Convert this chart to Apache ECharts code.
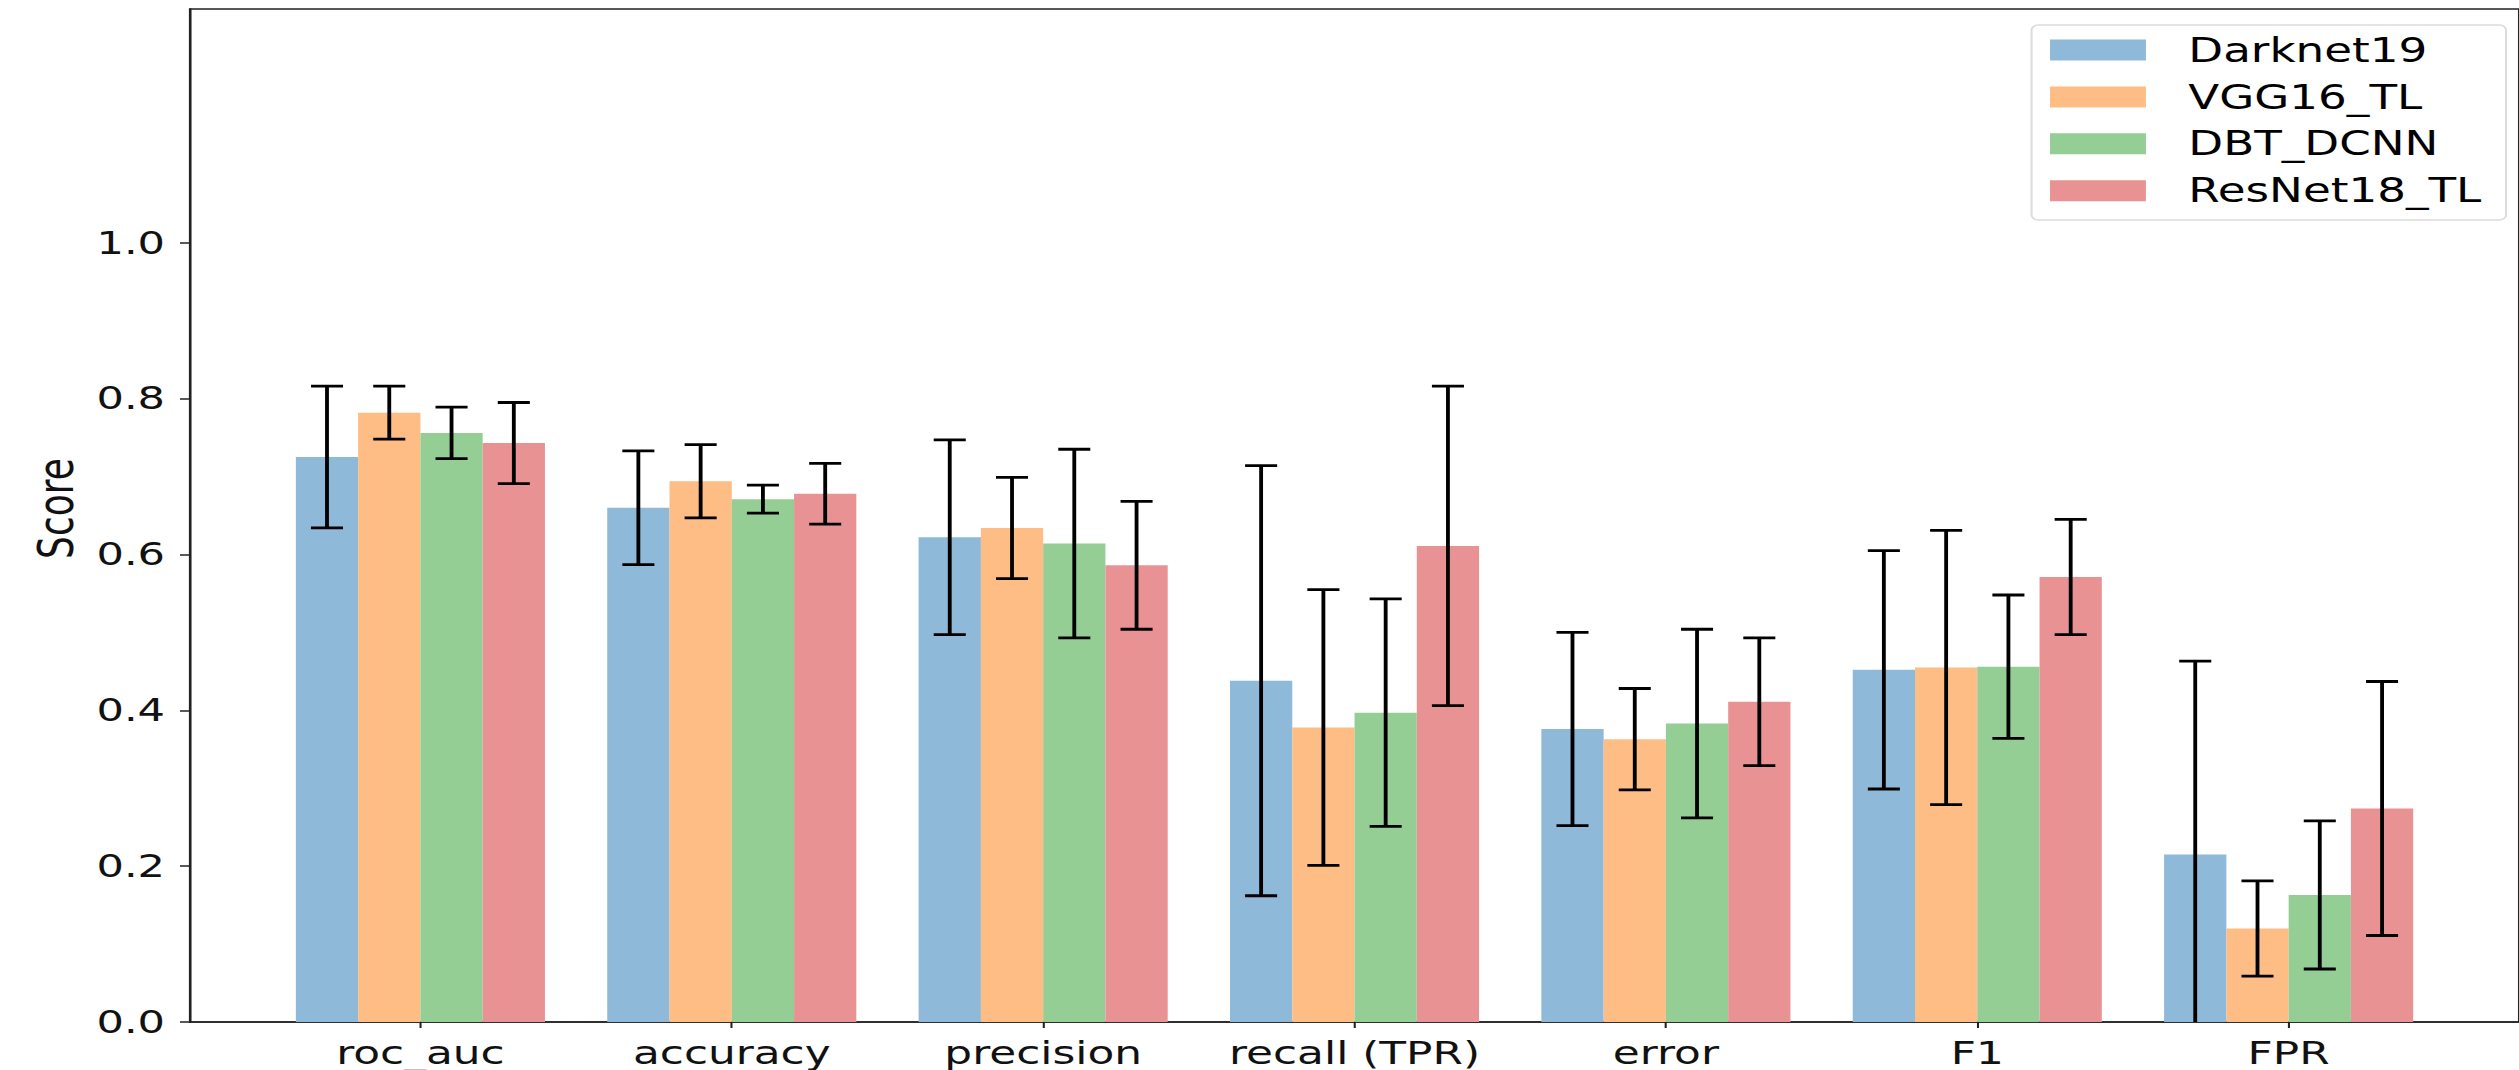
<!DOCTYPE html>
<html>
<head>
<meta charset="utf-8">
<script src="https://cdn.jsdelivr.net/npm/echarts@6/dist/echarts.min.js"></script>
<style>
html,body{margin:0;padding:0;background:#fff;overflow:hidden;}
/* the reference picture is stretched horizontally; reproduce it */
#chart{width:1839px;height:1070px;transform:scaleX(1.3698);transform-origin:0 0;}
</style>
</head>
<body>
<div id="chart"></div>
<script>
// ---- data ----
const categories = ['roc_auc', 'accuracy', 'precision', 'recall (TPR)', 'error', 'F1', 'FPR'];
const models = ['Darknet19', 'VGG16_TL', 'DBT_DCNN', 'ResNet18_TL'];
const darknet19Mean = [0.725, 0.660, 0.622, 0.438, 0.376, 0.452, 0.215];
const darknet19Std  = [0.091, 0.073, 0.125, 0.276, 0.124, 0.153, 0.248];
const vgg16Mean     = [0.782, 0.694, 0.634, 0.378, 0.363, 0.455, 0.120];
const vgg16Std      = [0.034, 0.047, 0.065, 0.177, 0.065, 0.176, 0.061];
const dbtMean       = [0.756, 0.671, 0.614, 0.397, 0.383, 0.456, 0.163];
const dbtStd        = [0.033, 0.018, 0.121, 0.146, 0.121, 0.092, 0.095];
const resnet18Mean  = [0.743, 0.678, 0.586, 0.611, 0.411, 0.571, 0.274];
const resnet18Std   = [0.052, 0.039, 0.082, 0.205, 0.082, 0.074, 0.163];
const yTicks = [0.0, 0.2, 0.4, 0.6, 0.8, 1.0];
const xTicks = [0, 1, 2, 3, 4, 5, 6];

// ---- styles ----
const colors = ['#8eb9d8', '#fdbd84', '#95ce95', '#e99293'];
const BAR_W = 0.2;
const FONT = 'DejaVu Sans';
const AXIS_COLOR = '#222';

const means = [darknet19Mean, vgg16Mean, dbtMean, resnet18Mean];
const stds = [darknet19Std, vgg16Std, dbtStd, resnet18Std];

function makeSeries(k) {
  const data = categories.map((c, i) => [i, means[k][i], stds[k][i]]);
  return {
    name: models[k],
    type: 'custom',
    itemStyle: { color: colors[k] },
    data: data,
    encode: { x: 0, y: 1 },
    z: 2 + k,
    renderItem: function (params, api) {
      const i = api.value(0), m = api.value(1), s = api.value(2);
      const xc = i + (k - 1.5) * BAR_W;
      const p0 = api.coord([xc - BAR_W / 2, m]);
      const p1 = api.coord([xc + BAR_W / 2, 0]);
      const top = api.coord([xc, m + s]);
      const lowV = m - s;
      const bot = api.coord([xc, Math.max(0, lowV)]);
      const capHalf = 11.7;
      const lineStyle = { stroke: '#000', lineWidth: 2.8 };
      const children = [
        { type: 'rect', shape: { x: p0[0], y: p0[1], width: p1[0] - p0[0], height: p1[1] - p0[1] },
          style: { fill: colors[k] } },
        { type: 'line', shape: { x1: top[0], y1: top[1], x2: bot[0], y2: bot[1] }, style: lineStyle },
        { type: 'line', shape: { x1: top[0] - capHalf, y1: top[1], x2: top[0] + capHalf, y2: top[1] }, style: lineStyle }
      ];
      if (lowV >= 0) {
        children.push({ type: 'line', shape: { x1: bot[0] - capHalf, y1: bot[1], x2: bot[0] + capHalf, y2: bot[1] }, style: lineStyle });
      }
      return { type: 'group', children: children };
    }
  };
}

const chart = echarts.init(document.getElementById('chart'), null, { renderer: 'svg' });
chart.setOption({
  animation: false,
  backgroundColor: '#fff',
  grid: {
    left: 138.7, top: 9, right: -8.5, bottom: 48,
    show: true, borderColor: AXIS_COLOR, borderWidth: 1.6, backgroundColor: 'transparent'
  },
  legend: {
    data: models,
    orient: 'vertical',
    right: 9.5, top: 25,
    icon: 'rect',
    itemWidth: 70, itemHeight: 21,
    itemGap: 13.9,
    padding: [8.5, 18, 12.8, 13.5],
    backgroundColor: '#fff',
    borderColor: '#dcdcdc', borderWidth: 1.5, borderRadius: 5,
    textStyle: { fontFamily: FONT, fontSize: 33, color: '#000', lineHeight: 33, padding: [0, 0, 0, 26] }
  },
  xAxis: {
    type: 'value',
    min: -0.74, max: 6.74,
    splitLine: { show: false },
    axisLine: { show: true, onZero: false, lineStyle: { color: AXIS_COLOR, width: 1.6 } },
    axisTick: { show: true, customValues: xTicks, length: 6, lineStyle: { color: AXIS_COLOR, width: 1.5 } },
    axisLabel: {
      customValues: xTicks,
      margin: 14.5,
      fontFamily: FONT, fontSize: 32, color: '#111',
      formatter: function (v) { return categories[Math.round(v)]; }
    }
  },
  yAxis: {
    type: 'value',
    min: 0, max: 1.3,
    name: 'Score',
    nameLocation: 'middle',
    nameGap: 80,
    nameTextStyle: { fontFamily: FONT, fontSize: 36, color: '#111', padding: [0, 0, 0, 14] },
    splitLine: { show: false },
    axisLine: { show: true, onZero: false, lineStyle: { color: AXIS_COLOR, width: 1.6 } },
    axisTick: { show: true, customValues: yTicks, length: 7.3, lineStyle: { color: AXIS_COLOR, width: 1.5 } },
    axisLabel: {
      customValues: yTicks,
      margin: 18.2,
      fontFamily: FONT, fontSize: 31.5, color: '#111',
      formatter: function (v) { return v.toFixed(1); }
    }
  },
  series: [0, 1, 2, 3].map(makeSeries)
});
</script>
</body>
</html>
